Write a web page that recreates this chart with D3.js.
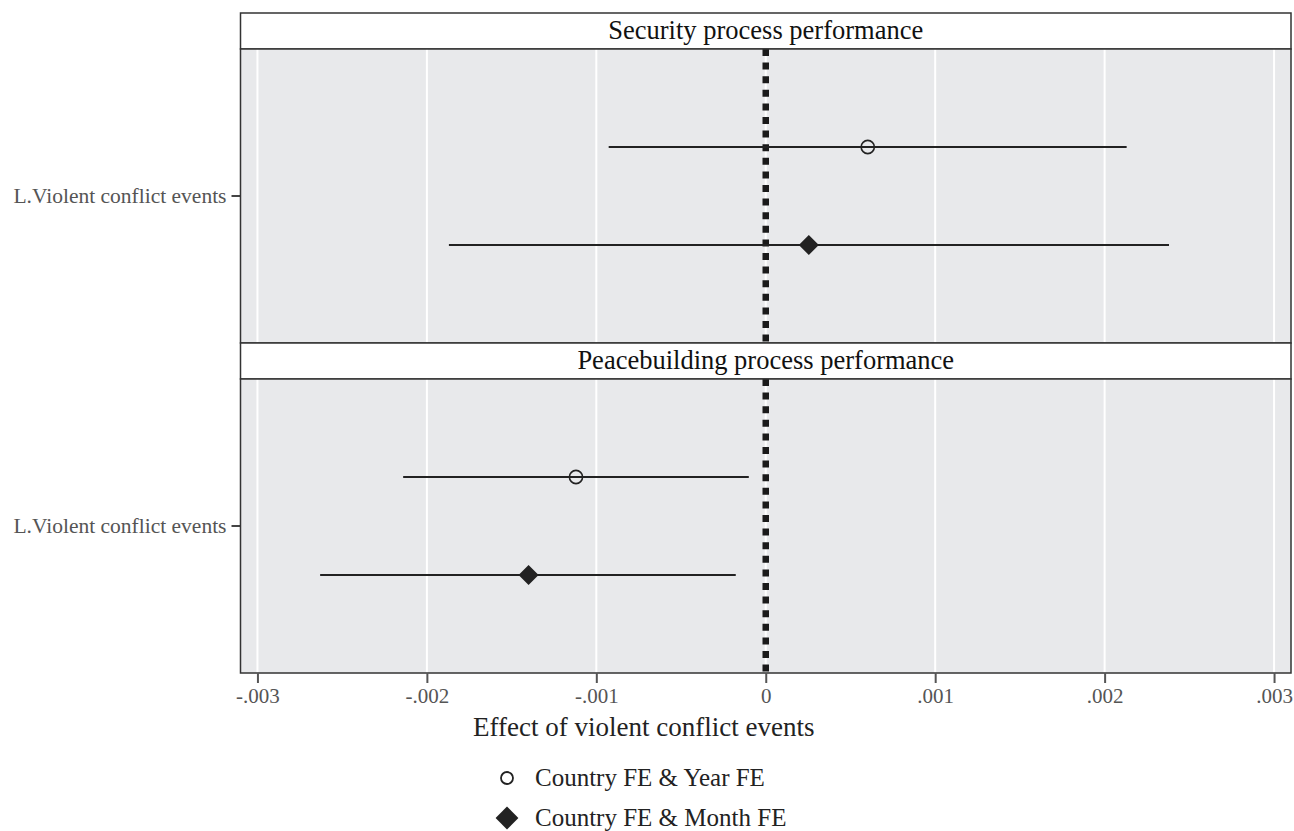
<!DOCTYPE html>
<html>
<head>
<meta charset="utf-8">
<script src="https://cdnjs.cloudflare.com/ajax/libs/d3/7.8.5/d3.min.js"></script>
<style>
    body { margin: 0; background: #fff; }
    svg text { font-family: "Liberation Serif", "Times New Roman", serif; }
</style>
</head>
<body>
<div id="chart"></div>
<script>
// panels (facets), one coefficient per panel
var panels = ["Security process performance", "Peacebuilding process performance"];
var variable = "L.Violent conflict events";
var models = ["Country FE & Year FE", "Country FE & Month FE"];

// estimates per panel, in model order
var estimates = [[0.000602, 0.000254], [-0.00112, -0.00140]];
var lower = [[-0.000927, -0.00187], [-0.00214, -0.00263]];
var upper = [[0.00213, 0.00238], [-0.00010, -0.000177]];

var tickValues = [-0.003, -0.002, -0.001, 0, 0.001, 0.002, 0.003];
var tickLabels = ["-.003", "-.002", "-.001", "0", ".001", ".002", ".003"];

var width = 1294, height = 831;
var margin = {top: 13, right: 3, bottom: 158, left: 240.5};
var plotW = width - margin.left - margin.right;
var stripH = 36;
var panelH = 294;

var svg = d3.select("#chart").append("svg")
    .attr("width", width)
    .attr("height", height);

var main = svg.append("g")
    .attr("transform", "translate(" + margin.left + "," + margin.top + ")");

var x = d3.scaleLinear()
    .domain([-0.0031, 0.0031])
    .range([0, plotW]);

var y = d3.scalePoint()
    .domain(models)
    .range([panelH / 2 - 49, panelH / 2 + 49]);

var diamond = d3.symbol().type(d3.symbolSquare).size(200);
var legendDiamond = d3.symbol().type(d3.symbolSquare).size(260);

panels.forEach(function (title, i) {
    var top = i * (stripH + panelH);

    // strip header
    var strip = main.append("g").attr("transform", "translate(0," + top + ")");
    strip.append("rect")
        .attr("width", plotW)
        .attr("height", stripH)
        .attr("fill", "#fff")
        .attr("stroke", "#333")
        .attr("stroke-width", 1.5);
    strip.append("text")
        .attr("x", plotW / 2)
        .attr("y", stripH / 2 + 7.5)
        .attr("text-anchor", "middle")
        .attr("font-size", 26.5)
        .attr("fill", "#111")
        .text(title);

    var g = main.append("g").attr("transform", "translate(0," + (top + stripH) + ")");

    g.append("rect")
        .attr("width", plotW)
        .attr("height", panelH)
        .attr("fill", "#e8e9eb");

    // grid
    g.selectAll(".grid")
        .data(tickValues)
        .enter().append("line")
        .attr("x1", function (d) { return x(d); })
        .attr("x2", function (d) { return x(d); })
        .attr("y1", 0)
        .attr("y2", panelH)
        .attr("stroke", "#fff")
        .attr("stroke-width", 2);

    // zero reference line
    g.append("line")
        .attr("x1", x(0))
        .attr("x2", x(0))
        .attr("y1", 0)
        .attr("y2", panelH)
        .attr("stroke", "#1a1a1a")
        .attr("stroke-width", 6.5)
        .attr("stroke-dasharray", "7,6.6");

    // confidence intervals
    g.selectAll(".ci")
        .data(models)
        .enter().append("line")
        .attr("x1", function (d, j) { return x(lower[i][j]); })
        .attr("x2", function (d, j) { return x(upper[i][j]); })
        .attr("y1", function (d) { return y(d); })
        .attr("y2", function (d) { return y(d); })
        .attr("stroke", "#222")
        .attr("stroke-width", 2);

    // point estimates
    g.append("circle")
        .attr("cx", x(estimates[i][0]))
        .attr("cy", y(models[0]))
        .attr("r", 6.6)
        .attr("fill", "none")
        .attr("stroke", "#222")
        .attr("stroke-width", 1.6);

    g.append("path")
        .attr("d", diamond())
        .attr("transform", "translate(" + x(estimates[i][1]) + "," + y(models[1]) + ") rotate(45)")
        .attr("fill", "#222");

    // y axis (single category)
    var yAxis = g.append("g");
    yAxis.append("line")
        .attr("x1", -9).attr("x2", 0)
        .attr("y1", panelH / 2).attr("y2", panelH / 2)
        .attr("stroke", "#444").attr("stroke-width", 2);
    yAxis.append("text")
        .attr("x", -14)
        .attr("y", panelH / 2 + 7)
        .attr("text-anchor", "end")
        .attr("font-size", 21.5)
        .attr("fill", "#555")
        .text(variable);

    // panel border
    g.append("rect")
        .attr("width", plotW)
        .attr("height", panelH)
        .attr("fill", "none")
        .attr("stroke", "#333")
        .attr("stroke-width", 1.5);
});

var axisY = 2 * (stripH + panelH);
var xAxis = main.append("g")
    .attr("transform", "translate(0," + axisY + ")")
    .call(d3.axisBottom(x)
        .tickValues(tickValues)
        .tickFormat(function (d, i) { return tickLabels[i]; })
        .tickSize(10)
        .tickPadding(5));
xAxis.select(".domain").remove();
xAxis.selectAll(".tick line").attr("stroke", "#555").attr("stroke-width", 2);
xAxis.selectAll(".tick text")
    .attr("font-size", 21)
    .attr("fill", "#555")
    .style("font-family", "Liberation Serif, serif");

main.append("text")
    .attr("x", x(-0.00072))
    .attr("y", axisY + 63)
    .attr("text-anchor", "middle")
    .attr("font-size", 27)
    .attr("fill", "#222")
    .text("Effect of violent conflict events");

// legend
var legend = svg.append("g").attr("transform", "translate(507,778)");
legend.append("circle")
    .attr("cx", 0).attr("cy", 0).attr("r", 6)
    .attr("fill", "none").attr("stroke", "#222").attr("stroke-width", 1.8);
legend.append("path")
    .attr("d", legendDiamond())
    .attr("transform", "translate(0,40) rotate(45)")
    .attr("fill", "#222");
legend.selectAll(".lab")
    .data(models)
    .enter().append("text")
    .attr("x", 28)
    .attr("y", function (d, i) { return i * 40 + 8; })
    .attr("font-size", 25)
    .attr("fill", "#222")
    .text(function (d) { return d; });
</script>
</body>
</html>
